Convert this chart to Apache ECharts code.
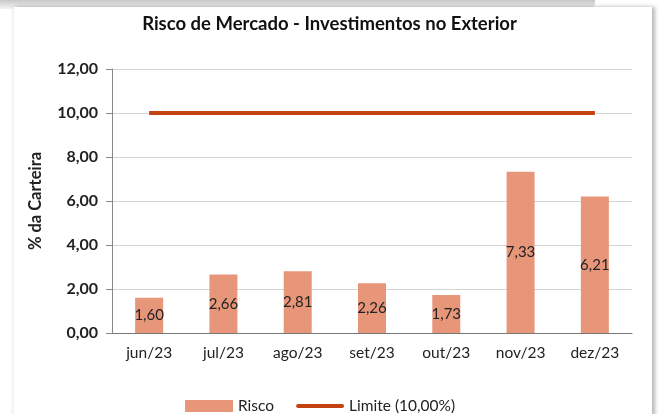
<!DOCTYPE html>
<html>
<head>
<meta charset="utf-8">
<script src="https://cdn.jsdelivr.net/npm/echarts@6/dist/echarts.min.js"></script>
<style>
  html, body { margin: 0; padding: 0; background: #fff; }
  #wrap { position: relative; width: 659px; height: 414px; overflow: hidden; background: #fff; }
  #topShade { position: absolute; left: 0; top: 0; width: 595px; height: 9px;
    background: linear-gradient(#c8c8c8, #f4f4f4); border-radius: 0 0 6px 0; }
  #card { position: absolute; left: 14px; top: 7px; width: 638px; height: 420px; background: #fff;
    box-shadow: 3px 0 4px rgba(0,0,0,0.28), -2px 0 3px rgba(0,0,0,0.05); }
  #chart { position: absolute; left: 0; top: 0; width: 659px; height: 414px; }
</style>
</head>
<body>
<div id="wrap">
  <div id="topShade"></div>
  <div id="card"></div>
  <div id="chart"></div>
</div>
<script>
// dados
var meses = ['jun/23', 'jul/23', 'ago/23', 'set/23', 'out/23', 'nov/23', 'dez/23'];
var risco = [1.60, 2.66, 2.81, 2.26, 1.73, 7.33, 6.21];
var limite = [10, 10, 10, 10, 10, 10, 10];

var fonte = 'Lato, "Open Sans", sans-serif';

function virgula(v) {
  return Number(v).toFixed(2).replace('.', ',');
}

var myChart = echarts.init(document.getElementById('chart'));
myChart.setOption({
  backgroundColor: 'transparent',
  textStyle: { fontFamily: fonte },
  title: {
    text: 'Risco de Mercado - Investimentos no Exterior',
    left: 'center',
    top: 10,
    textStyle: { color: '#111', fontSize: 18.5, fontWeight: 'bold', fontFamily: fonte }
  },
  grid: { left: 112, right: 27, top: 69, bottom: 81 },
  legend: {
    top: 393,
    left: 180,
    itemGap: 22,
    itemWidth: 48,
    itemHeight: 12,
    textStyle: { color: '#222', fontSize: 15.5, fontFamily: fonte },
    data: [
      { name: 'Risco', icon: 'rect' },
      { name: 'Limite (10,00%)', icon: 'path://M2,0 L46,0 A2,2 0 0 1 46,4 L2,4 A2,2 0 0 1 2,0 Z' }
    ]
  },
  xAxis: {
    type: 'category',
    data: meses,
    axisLine: { lineStyle: { color: '#777', width: 1 } },
    axisTick: { show: false },
    axisLabel: { color: '#222', fontSize: 15.5, margin: 12, fontFamily: fonte }
  },
  yAxis: {
    type: 'value',
    min: 0,
    max: 12,
    interval: 2,
    name: '% da Carteira',
    nameLocation: 'middle',
    nameGap: 68,
    nameTextStyle: { color: '#222', fontSize: 16.5, fontWeight: 'bold', fontFamily: fonte },
    axisLine: { show: true, lineStyle: { color: '#888' } },
    axisTick: { show: true, length: 6, lineStyle: { color: '#888' } },
    axisLabel: {
      color: '#222', fontSize: 16, fontWeight: 'bold', margin: 14, fontFamily: fonte,
      formatter: function (v) { return virgula(v); }
    },
    splitLine: { lineStyle: { color: '#d4d4d4', width: 1 } }
  },
  series: [
    {
      name: 'Risco',
      type: 'bar',
      data: risco,
      barWidth: 28,
      itemStyle: { color: '#E8967A' },
      label: {
        show: true,
        position: 'inside',
        color: '#222',
        fontSize: 15,
        fontFamily: fonte,
        formatter: function (p) { return virgula(p.value); }
      }
    },
    {
      name: 'Limite (10,00%)',
      type: 'line',
      data: limite,
      symbol: 'none',
      lineStyle: { color: '#C4420F', width: 4 },
      itemStyle: { color: '#C4420F' }
    }
  ]
});
</script>
</body>
</html>
